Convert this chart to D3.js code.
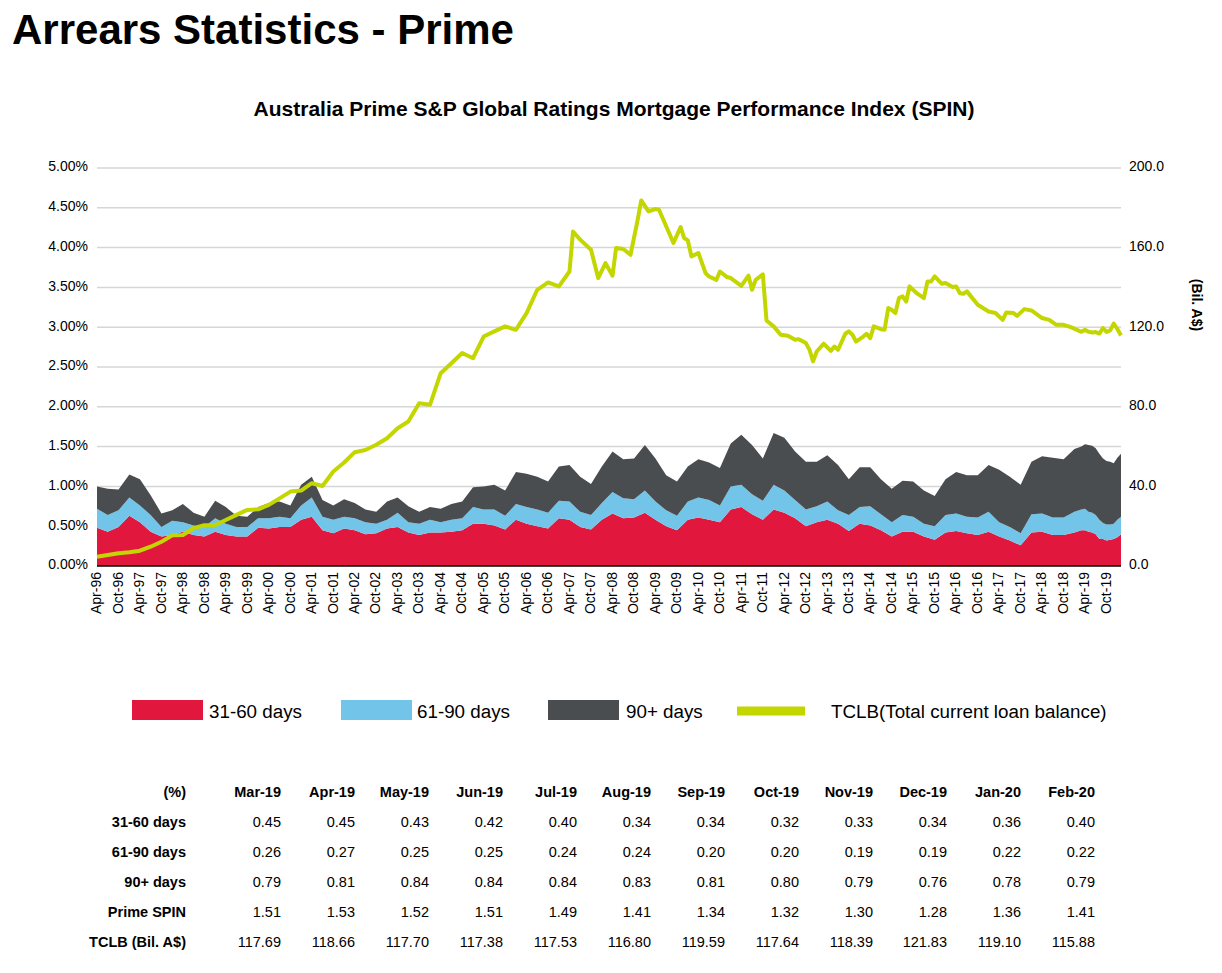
<!DOCTYPE html>
<html>
<head>
<meta charset="utf-8">
<script src="https://cdn.jsdelivr.net/npm/d3@7"></script>
<style>
  body { margin: 0; background: #fff; }
  svg { font-family: "Liberation Sans", Arial, sans-serif; }
</style>
</head>
<body>
<svg id="chart" width="1222" height="973"></svg>
<script>
// quarterly readings, Apr-96 .. Jan-19
const quarterMonths = [
  "Apr-96","Jul-96","Oct-96",
  "Jan-97","Apr-97","Jul-97","Oct-97", "Jan-98","Apr-98","Jul-98","Oct-98",
  "Jan-99","Apr-99","Jul-99","Oct-99", "Jan-00","Apr-00","Jul-00","Oct-00",
  "Jan-01","Apr-01","Jul-01","Oct-01", "Jan-02","Apr-02","Jul-02","Oct-02",
  "Jan-03","Apr-03","Jul-03","Oct-03", "Jan-04","Apr-04","Jul-04","Oct-04",
  "Jan-05","Apr-05","Jul-05","Oct-05", "Jan-06","Apr-06","Jul-06","Oct-06",
  "Jan-07","Apr-07","Jul-07","Oct-07", "Jan-08","Apr-08","Jul-08","Oct-08",
  "Jan-09","Apr-09","Jul-09","Oct-09", "Jan-10","Apr-10","Jul-10","Oct-10",
  "Jan-11","Apr-11","Jul-11","Oct-11", "Jan-12","Apr-12","Jul-12","Oct-12",
  "Jan-13","Apr-13","Jul-13","Oct-13", "Jan-14","Apr-14","Jul-14","Oct-14",
  "Jan-15","Apr-15","Jul-15","Oct-15", "Jan-16","Apr-16","Jul-16","Oct-16",
  "Jan-17","Apr-17","Jul-17","Oct-17", "Jan-18","Apr-18","Jul-18","Oct-18",
  "Jan-19"
];
const q3160 = [
  .48,.43,.49,
  .63,.55,.43,.37, .39,.43,.39,.37, .43,.39,.37,.37, .48,.47,.49,.49,
  .58,.62,.45,.41, .47,.45,.40,.41, .47,.49,.42,.39, .42,.42,.43,.45,
  .53,.53,.51,.46, .58,.53,.50,.47, .60,.58,.49,.46, .58,.66,.60,.61,
  .67,.58,.50,.45, .58,.61,.58,.55, .71,.74,.65,.58, .71,.67,.60,.50,
  .55,.58,.53,.44, .53,.51,.45,.37, .43,.43,.37,.33, .42,.44,.41,.39,
  .43,.37,.32,.26, .42,.43,.39,.39,
  .42
];
const q6190 = [
  .24,.21,.21,
  .23,.21,.21,.12, .18,.12,.12,.12, .17,.14,.12,.12, .12,.13,.13,.11,
  .18,.24,.17,.17, .15,.15,.15,.12, .11,.18,.13,.14, .16,.13,.15,.15,
  .21,.18,.20,.17, .20,.21,.21,.20, .22,.23,.19,.18, .21,.27,.25,.23,
  .28,.23,.20,.18, .23,.25,.25,.21, .29,.28,.25,.24, .31,.28,.23,.21,
  .20,.23,.17,.20, .21,.24,.20,.18, .21,.19,.16,.17, .22,.22,.21,.22,
  .25,.18,.17,.15, .23,.23,.22,.22,
  .26
];
const q90 = [
  .28,.33,.26,
  .29,.33,.25,.17, .13,.23,.16,.13, .22,.21,.14,.13, .14,.19,.19,.16,
  .26,.26,.21,.18, .22,.19,.16,.15, .23,.19,.20,.15, .16,.17,.20,.21,
  .25,.29,.31,.32, .40,.42,.41,.39, .43,.46,.44,.39, .46,.51,.49,.51,
  .57,.54,.44,.43, .44,.48,.47,.47, .54,.63,.62,.53, .65,.66,.61,.60,
  .56,.58,.57,.45, .50,.49,.44,.42, .43,.44,.42,.38, .45,.52,.52,.53,
  .59,.66,.63,.61, .66,.72,.75,.73,
  .79
];

// TCLB (bil. A$) readings, denser where the line jumps
const tclbMonths = [
  "Apr-96","Jul-96","Oct-96","Jan-97","Apr-97","Jul-97","Oct-97","Jan-98","Apr-98","Jul-98",
  "Oct-98","Jan-99","Apr-99","Jul-99","Oct-99","Jan-00","Apr-00","Jul-00","Oct-00","Jan-01",
  "Apr-01","Jul-01","Oct-01","Jan-02","Apr-02","Jul-02","Oct-02","Jan-03","Apr-03","Jul-03",
  "Oct-03","Jan-04","Apr-04","Jul-04","Oct-04","Jan-05","Apr-05","Jul-05","Oct-05","Jan-06",
  "Apr-06","Jul-06","Oct-06","Jan-07","Apr-07","May-07","Jul-07","Oct-07","Dec-07","Feb-08",
  "Apr-08","May-08","Jul-08","Sep-08","Nov-08","Dec-08","Feb-09","Apr-09","May-09","Jul-09",
  "Sep-09","Nov-09","Dec-09","Jan-10","Feb-10","Apr-10","Jun-10","Jul-10","Sep-10","Oct-10",
  "Dec-10","Jan-11","Apr-11","Jun-11","Jul-11","Aug-11","Oct-11","Nov-11","Jan-12","Mar-12",
  "May-12","Jul-12","Aug-12","Oct-12","Nov-12","Dec-12","Jan-13","Mar-13","May-13","Jun-13",
  "Jul-13","Sep-13","Oct-13","Nov-13","Dec-13","Feb-14","Mar-14","Apr-14","May-14","Jul-14",
  "Aug-14","Sep-14","Oct-14","Nov-14","Dec-14","Jan-15","Feb-15","Mar-15","May-15","Jul-15",
  "Aug-15","Sep-15","Oct-15","Dec-15","Jan-16","Mar-16","Apr-16","May-16","Jun-16","Jul-16",
  "Oct-16","Jan-17","Mar-17","May-17","Jun-17","Aug-17","Sep-17","Nov-17","Jan-18","Apr-18",
  "Jun-18","Aug-18","Oct-18","Dec-18"
];
const tclbValues = [
  4.7,5.5,6.4,6.9,7.7,9.7,12.2,15.4,15.6,19.0,
  20.5,20.6,23.1,25.7,28.2,28.5,30.7,34.0,37.4,37.9,
  41.6,40.2,47.5,52.0,57.2,58.3,60.9,64.2,69.2,72.6,
  81.8,81.0,96.9,101.9,107.0,104.4,115.3,117.9,120.4,118.7,
  127.1,138.8,142.5,140.5,148.0,168.1,164.0,158.9,144.7,152.2,
  145.9,159.8,159.3,156.4,174.0,183.7,178.2,179.4,179.0,170.7,
  162.3,170.3,164.8,163.6,155.6,157.3,147.2,145.5,143.8,148.0,
  145.2,144.7,140.8,145.9,138.8,143.8,146.5,123.4,120.4,116.2,
  115.7,113.7,114.0,112.0,108.6,102.8,107.8,111.7,108.1,110.3,
  108.6,116.7,117.9,116.2,112.8,115.3,116.7,114.5,120.4,119.0,
  118.7,129.6,128.7,127.1,134.6,135.5,132.9,140.5,137.1,134.6,
  143.0,143.0,145.5,141.8,142.2,140.2,140.5,137.1,136.8,138.0,
  131.3,127.9,127.1,123.7,127.4,127.1,125.7,129.1,128.4,124.6,
  123.7,121.2,121.2,120.0
];

// last 12 months, from the table
const tableMonths = ["Mar-19","Apr-19","May-19","Jun-19","Jul-19","Aug-19","Sep-19","Oct-19","Nov-19","Dec-19","Jan-20","Feb-20"];
const t3160 = [0.45,0.45,0.43,0.42,0.40,0.34,0.34,0.32,0.33,0.34,0.36,0.40];
const t6190 = [0.26,0.27,0.25,0.25,0.24,0.24,0.20,0.20,0.19,0.19,0.22,0.22];
const t90   = [0.79,0.81,0.84,0.84,0.84,0.83,0.81,0.80,0.79,0.76,0.78,0.79];
const tSpin = [1.51,1.53,1.52,1.51,1.49,1.41,1.34,1.32,1.30,1.28,1.36,1.41];
const tTclb = [117.69,118.66,117.70,117.38,117.53,116.80,119.59,117.64,118.39,121.83,119.10,115.88];

const leftTicks = [0, 0.5, 1, 1.5, 2, 2.5, 3, 3.5, 4, 4.5, 5];
const rightTicks = [0, 40, 80, 120, 160, 200];

const colors = { d3160: "#e2173e", d6190: "#72c5e9", d90: "#4a4d50", tclb: "#c4d600" };

const parse = d3.timeParse("%b-%y");
const fmtMonth = d3.timeFormat("%b-%y");

const svg = d3.select("#chart");

// titles
svg.append("text")
  .attr("x", 12).attr("y", 44)
  .style("font-size", "42px").style("font-weight", 700)
  .text("Arrears Statistics - Prime");

svg.append("text")
  .attr("x", 614).attr("y", 116)
  .attr("text-anchor", "middle")
  .style("font-size", "21px").style("font-weight", 700)
  .text("Australia Prime S&P Global Ratings Mortgage Performance Index (SPIN)");

// scales
const x = d3.scaleTime()
  .domain([parse("Apr-96"), parse("Feb-20")])
  .range([97, 1121]);
const y = d3.scaleLinear().domain([0, 5]).range([566, 168]);
const yR = d3.scaleLinear().domain([0, 200]).range([566, 168]);

// gridlines
svg.append("g")
  .selectAll("line")
  .data(leftTicks.slice(1))
  .join("line")
    .attr("x1", 97).attr("x2", 1121)
    .attr("y1", d => y(d)).attr("y2", d => y(d))
    .attr("stroke", "#d6d6d6")
    .attr("stroke-width", 1.5);

// stacked areas
const months = quarterMonths.concat(tableMonths);
const s3160 = q3160.concat(t3160);
const s6190 = q6190.concat(t6190);
const s90 = q90.concat(t90);
const rows = months.map((m, i) => ({
  date: parse(m), d3160: s3160[i], d6190: s6190[i], d90: s90[i]
}));

const keys = ["d3160", "d6190", "d90"];
const series = d3.stack().keys(keys)(rows);

const areaGen = d3.area()
  .x(d => x(d.data.date))
  .y0(d => y(d[0]))
  .y1(d => y(d[1]));

svg.append("g")
  .selectAll("path")
  .data(series)
  .join("path")
    .attr("d", areaGen)
    .attr("fill", d => colors[d.key]);

// x axis line
svg.append("line")
  .attr("x1", 97).attr("x2", 1121)
  .attr("y1", 566).attr("y2", 566)
  .attr("stroke", "#000").attr("stroke-width", 1.5);

// TCLB line
const tclbRows = tclbMonths.concat(tableMonths).map((m, i) => ({
  date: parse(m), v: tclbValues.concat(tTclb)[i]
}));

svg.append("path")
  .datum(tclbRows)
  .attr("d", d3.line().x(d => x(d.date)).y(d => yR(d.v)))
  .attr("fill", "none")
  .attr("stroke", colors.tclb)
  .attr("stroke-width", 4)
  .attr("stroke-linejoin", "round");

// axes
const axisLeft = svg.append("g")
  .attr("transform", "translate(88,0)")
  .call(d3.axisLeft(y).tickValues(leftTicks).tickSize(0).tickPadding(0)
    .tickFormat(d => d.toFixed(2) + "%"));
axisLeft.select(".domain").remove();
axisLeft.selectAll("text")
  .attr("dy", "0.2em")
  .style("font-size", "14px").style("font-family", "Liberation Sans, Arial, sans-serif").attr("fill", "#000");

const axisRight = svg.append("g")
  .attr("transform", "translate(1129,0)")
  .call(d3.axisRight(yR).tickValues(rightTicks).tickSize(0).tickPadding(0)
    .tickFormat(d3.format(".1f")));
axisRight.select(".domain").remove();
axisRight.selectAll("text")
  .attr("dy", "0.2em")
  .style("font-size", "14px").style("font-family", "Liberation Sans, Arial, sans-serif").attr("fill", "#000");

svg.append("text")
  .attr("transform", "translate(1192,305) rotate(90)")
  .attr("text-anchor", "middle")
  .style("font-size", "14px").style("font-weight", 700)
  .text("(Bil. A$)");

const xTicks = d3.timeMonth.range(parse("Apr-96"), parse("Nov-19"), 6);
svg.append("g")
  .selectAll("text")
  .data(xTicks)
  .join("text")
    .attr("transform", d => `translate(${x(d)},572) rotate(-90)`)
    .attr("text-anchor", "end")
    .attr("dy", "0.3em")
    .style("font-size", "14px")
    .text(d => fmtMonth(d));

// legend
const legend = [
  { label: "31-60 days", key: "d3160", x: 132, tx: 209 },
  { label: "61-90 days", key: "d6190", x: 341, tx: 417 },
  { label: "90+ days", key: "d90", x: 548, tx: 626 },
];
const lg = svg.append("g");
lg.selectAll("rect")
  .data(legend)
  .join("rect")
    .attr("x", d => d.x).attr("y", 700)
    .attr("width", 71).attr("height", 20)
    .attr("fill", d => colors[d.key]);
lg.selectAll("text")
  .data(legend.concat([{ label: "TCLB(Total current loan balance)", tx: 831 }]))
  .join("text")
    .attr("x", d => d.tx).attr("y", 718)
    .style("font-size", "18.8px")
    .text(d => d.label);
lg.append("line")
  .attr("x1", 737).attr("x2", 805)
  .attr("y1", 711).attr("y2", 711)
  .attr("stroke", colors.tclb).attr("stroke-width", 9);

// table
const col = d3.scalePoint().domain(tableMonths).range([281, 1095]);
const tableRows = [
  { label: "31-60 days", values: t3160 },
  { label: "61-90 days", values: t6190 },
  { label: "90+ days", values: t90 },
  { label: "Prime SPIN", values: tSpin },
  { label: "TCLB (Bil. A$)", values: tTclb },
];
const table = svg.append("g").style("font-size", "14.5px");

table.append("text")
  .attr("x", 186).attr("y", 797)
  .attr("text-anchor", "end").style("font-weight", 700)
  .text("(%)");
table.selectAll(".head")
  .data(tableMonths)
  .join("text")
    .attr("class", "head")
    .attr("x", d => col(d)).attr("y", 797)
    .attr("text-anchor", "end").style("font-weight", 700)
    .text(d => d);

tableRows.forEach((row, r) => {
  const ty = 827 + r * 30;
  table.append("text")
    .attr("x", 186).attr("y", ty)
    .attr("text-anchor", "end").style("font-weight", 700)
    .text(row.label);
  table.selectAll(`.cell-${r}`)
    .data(row.values)
    .join("text")
      .attr("class", `cell-${r}`)
      .attr("x", (d, i) => col(tableMonths[i])).attr("y", ty)
      .attr("text-anchor", "end")
      .text(d => d3.format(".2f")(d));
});
</script>
</body>
</html>
